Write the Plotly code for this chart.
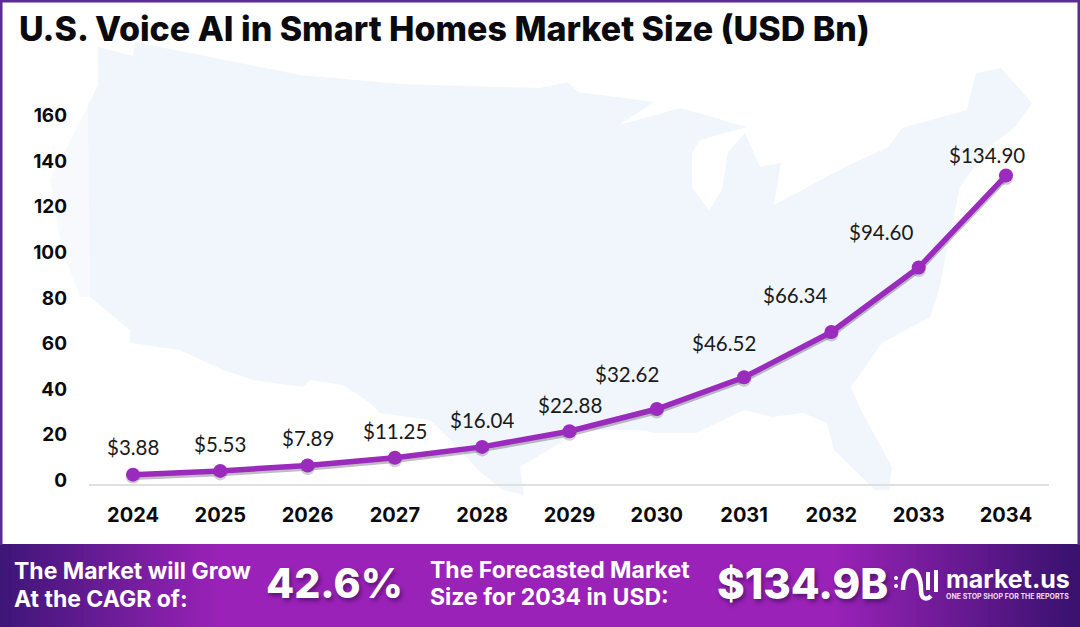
import plotly.graph_objects as go

W, H = 1080, 627
years = ["2024","2025","2026","2027","2028","2029","2030","2031","2032","2033","2034"]
market_size = [3.88,5.53,7.89,11.25,16.04,22.88,32.62,46.52,66.34,94.60,134.90]
y_ticks = [0,20,40,60,80,100,120,140,160]
title_text = "U.S. Voice AI in Smart Homes Market Size (USD Bn)"
FONT = "Inter"
PURPLE = "#9a2bbd"

# pixel layout helpers
def px(x): return x / W
def py(y): return 1 - y / H
def path(pts, close=True):
    s = "M " + " L ".join(f"{px(x):.5f},{py(y):.5f}" for x, y in pts)
    return s + (" Z" if close else "")

AX_L, AX_R, AX_B, AX_T = 89, 1049, 483.5, 80
SCALE = 2.283   # px per unit
CAT = 87.3      # px per category
x_range = [-(133 - AX_L) / CAT, (AX_R - 133) / CAT]
y_range = [0, (AX_B - AX_T) / SCALE]
shadow_px = 2.5

fig = go.Figure()
# soft drop shadow lives on the hidden base axis so it paints under the main line
fig.add_trace(go.Scatter(x=list(range(len(years))), y=market_size, yaxis="y", mode="lines+markers",
    line=dict(color="rgba(50,30,60,0.30)", width=5.5), marker=dict(size=14, color="rgba(50,30,60,0.22)"),
    hoverinfo="skip", showlegend=False))
fig.add_trace(go.Scatter(x=list(range(len(years))), y=market_size, yaxis="y2", mode="lines+markers",
    line=dict(color=PURPLE, width=5.5), marker=dict(size=14, color=PURPLE), showlegend=False))

shapes = []
# US silhouette (decorative backdrop)
west_fade = [(98,85),(85,112),(50,180),(62,250),(80,297),(92,297),(92,100)]
shapes.append(dict(type="path", path=path(west_fade), xref="paper", yref="paper", layer="below",
                   fillcolor="#f7f9fc", line=dict(width=0)))
us = [(98,47),(133,56),(135,42),(300,75),(400,84),(540,88),(568,82),(578,92),(654,102),(619,125),(681,108),
      (747,127),(700,140),(692,153),(692,187),(709,210),(722,190),(728,152),(745,133),(760,167),(781,163),
      (774,205),(845,167),(888,147),(902,128),(967,110),(976,73),(1001,68),(1032,103),(1015,127),(988,148),
      (960,187),(950,235),(939,290),(930,317),(882,343),(851,387),(861,410),(892,467),(889,490),(875,490),
      (834,450),(827,423),(803,413),(772,417),(744,410),(696,433),(655,433),(641,430),(582,430),(520,467),
      (524,495),(503,490),(480,472),(457,447),(430,420),(380,413),(370,403),(343,385),(310,380),(303,387),
      (253,380),(223,370),(180,350),(130,343),(130,330),(90,297),(88,105),(98,85)]
shapes.append(dict(type="path", path=path(us), xref="paper", yref="paper", layer="below",
                   fillcolor="#f1f6fd", line=dict(width=0)))
# frame
FRAME = "#5a2d96"
for x0,y0,x1,y1 in [(0,0,W,2.5),(0,0,2.5,545),(1077.5,0,W,545)]:
    shapes.append(dict(type="rect", x0=px(x0), x1=px(x1), y0=py(y1), y1=py(y0), xref="paper", yref="paper",
                       fillcolor=FRAME, line=dict(width=0), layer="above"))
# banner gradient
def lerp(a,b,t): return tuple(round(a[i]+(b[i]-a[i])*t) for i in range(3))
DARK_L, MID, DARK_R = (62,22,120),(155,34,184),(58,18,112)
step = 4
for x in range(0, W, step):
    if x < 220: c = lerp(DARK_L, MID, x/220)
    elif x < 830: c = MID
    else: c = lerp(MID, DARK_R, min(1,(x-830)/240))
    shapes.append(dict(type="rect", x0=px(x), x1=px(x+step+0.5), y0=0, y1=py(544), xref="paper", yref="paper",
                       fillcolor=f"rgb{c}", line=dict(width=0), layer="below"))
# logo glyph
logo = dict(type="path", xref="paper", yref="paper", layer="above", line=dict(color="white", width=4.5),
    path=f"M {px(903)},{py(590)} C {px(903)},{py(564)} {px(921)},{py(564)} {px(921)},{py(590)} "
         f"C {px(921)},{py(600)} {px(927)},{py(600)} {px(931)},{py(596)}")
shapes.append(logo)
for x0,x1,y0,y1 in [(926,930,572,590),(934,938,570,592)]:
    shapes.append(dict(type="rect", x0=px(x0),x1=px(x1),y0=py(y1),y1=py(y0),xref="paper",yref="paper",
                       fillcolor="white",line=dict(width=0),layer="above"))
for cx,cy in [(896,578),(896,586)]:
    shapes.append(dict(type="circle", x0=px(cx-2),x1=px(cx+2),y0=py(cy+2),y1=py(cy-2),xref="paper",yref="paper",
                       fillcolor="white",line=dict(width=0),layer="above"))

ann = []
def txt(x, y, s, size, color="white", anchor="left", weight=700, shadow=None, family=FONT):
    f = dict(family=family, size=size, color=color, weight=weight)
    if shadow: f["shadow"] = shadow
    ann.append(dict(x=px(x), y=py(y), xref="paper", yref="paper", text=s, showarrow=False,
                    xanchor=anchor, yanchor="middle", font=f, align="left"))

txt(17, 29, title_text, 34, color="#0b0b0f", weight=800)
SH = "2px 3px 4px rgba(40,10,70,0.55)"
txt(12, 571, "The Market will Grow", 23)
txt(12, 599, "At the CAGR of:", 23)
txt(264, 583, "42.6%", 41, weight=800, shadow=SH)
txt(428, 570, "The Forecasted Market", 23)
txt(428, 597, "Size for 2034 in USD:", 23)
txt(715, 583, "$134.9B", 42, weight=800, shadow=SH)
txt(944, 579, "market.us", 25, weight=700)
txt(944, 596, "ONE STOP SHOP FOR THE REPORTS", 7, weight=700, color="#f0ddf6")

# data labels: offset from each point, px
label_dx = [0,0,0,0,0,0,-30,-20,-36,-38,-19.5]
label_dy = [28,27,27.5,27,27,26,35,34,37,35.5,20.5]
for i, v in enumerate(market_size):
    ann.append(dict(x=i, y=v, xref="x", yref="y2", text=f"${v:.2f}", showarrow=False, xshift=label_dx[i], yshift=label_dy[i],
                    font=dict(family="Lato", size=20.5, color="#1a1a1a")))

fig.update_layout(
    width=W, height=H, autosize=False, margin=dict(l=0, r=0, t=0, b=0),
    paper_bgcolor="white", plot_bgcolor="rgba(0,0,0,0)", showlegend=False,
    xaxis=dict(domain=[px(AX_L), px(AX_R)], range=x_range, tickmode="array", tickvals=list(range(len(years))), ticktext=years,
               showgrid=False, zeroline=False, showline=True, linecolor="#e0e0e0", linewidth=2, ticks="",
               tickfont=dict(family=FONT, size=20, color="#0b0b0f", weight=700), ticklabelstandoff=12, automargin=False),
    yaxis=dict(domain=[py(AX_B), py(AX_T)], visible=False,
               range=[y_range[0]+shadow_px/SCALE, y_range[1]+shadow_px/SCALE]),
    yaxis2=dict(domain=[py(AX_B), py(AX_T)], overlaying="y", side="left", range=y_range, tickmode="array", tickvals=y_ticks,
               showgrid=False, zeroline=False, showline=False, ticks="",
               tickfont=dict(family=FONT, size=19, color="#0b0b0f", weight=700), ticklabelstandoff=21, ticklabelshift=-3, automargin=False),
    shapes=shapes, annotations=ann,
)
fig.write_html("out.html", config=dict(displayModeBar=False),
               post_script="document.body.style.margin='0';document.documentElement.style.overflow='hidden';")
